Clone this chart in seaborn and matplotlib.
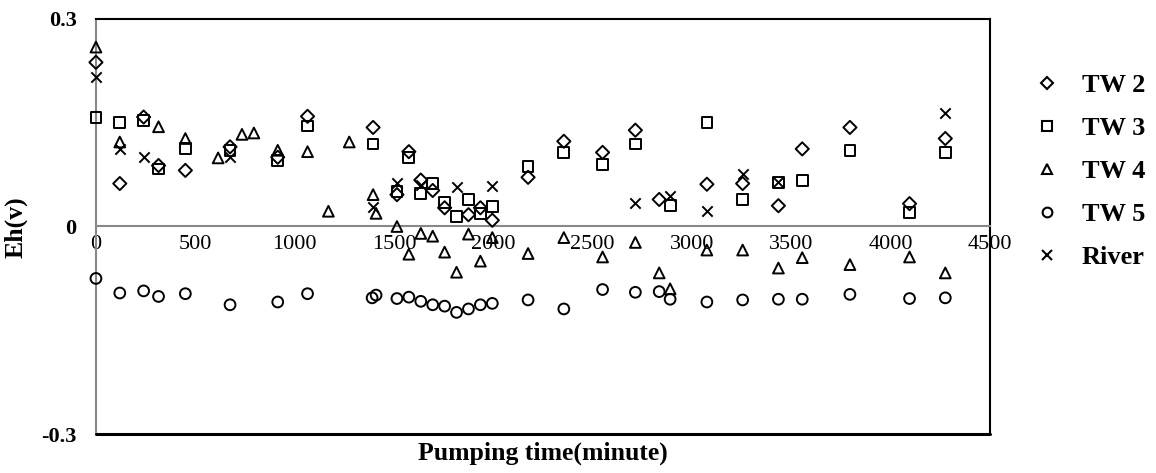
import matplotlib
matplotlib.use("Agg")
import pandas as pd
import seaborn as sns
import matplotlib.pyplot as plt
from matplotlib.lines import Line2D

# pumping time (minute) and Eh (v) for each well
tw2_t = [0, 120, 240, 315, 450, 675, 915, 1065, 1395, 1515, 1575, 1635, 1695, 1755,
         1875, 1935, 1995, 2175, 2355, 2550, 2715, 2835, 3075, 3255, 3435, 3555,
         3795, 4095, 4275]
tw2_eh = [0.237, 0.062, 0.158, 0.088, 0.081, 0.115, 0.100, 0.159, 0.143, 0.046, 0.108,
          0.067, 0.052, 0.027, 0.017, 0.027, 0.009, 0.071, 0.123, 0.107, 0.139, 0.039,
          0.061, 0.062, 0.030, 0.112, 0.143, 0.033, 0.127]

tw3_t = [0, 120, 240, 315, 450, 675, 915, 1065, 1395, 1515, 1575, 1635, 1695, 1755,
         1815, 1875, 1935, 1995, 2175, 2355, 2550, 2715, 2890, 3075, 3255, 3435, 3555,
         3795, 4095, 4275]
tw3_eh = [0.157, 0.150, 0.153, 0.083, 0.113, 0.110, 0.095, 0.145, 0.119, 0.050, 0.100,
          0.048, 0.062, 0.035, 0.014, 0.039, 0.019, 0.029, 0.087, 0.107, 0.089, 0.119,
          0.030, 0.150, 0.039, 0.064, 0.066, 0.110, 0.020, 0.107]

tw4_t = [0, 120, 315, 450, 615, 735, 795, 915, 1065, 1170, 1275, 1395, 1410, 1515,
         1575, 1635, 1695, 1755, 1815, 1875, 1935, 1995, 2175, 2355, 2550, 2715, 2835,
         2890, 3075, 3255, 3435, 3555, 3795, 4095, 4275]
tw4_eh = [0.259, 0.122, 0.144, 0.127, 0.099, 0.133, 0.135, 0.110, 0.108, 0.022, 0.122,
          0.046, 0.019, 0.000, -0.040, -0.010, -0.014, -0.037, -0.066, -0.011, -0.050,
          -0.016, -0.039, -0.016, -0.044, -0.023, -0.067, -0.090, -0.034, -0.034,
          -0.060, -0.045, -0.055, -0.044, -0.067]

tw5_t = [0, 120, 240, 315, 450, 675, 915, 1065, 1390, 1410, 1515, 1575, 1635, 1695,
         1755, 1815, 1875, 1935, 1995, 2175, 2355, 2550, 2715, 2835, 2890, 3075, 3255,
         3435, 3555, 3795, 4095, 4275]
tw5_eh = [-0.075, -0.096, -0.093, -0.101, -0.097, -0.113, -0.109, -0.097, -0.103, -0.099,
          -0.104, -0.102, -0.108, -0.113, -0.115, -0.124, -0.119, -0.113, -0.111, -0.106,
          -0.119, -0.091, -0.095, -0.094, -0.105, -0.109, -0.106, -0.105, -0.105, -0.098,
          -0.104, -0.103]

river_t = [0, 120, 240, 675, 1395, 1515, 1635, 1815, 1995, 2715, 2890, 3075, 3255, 3435, 4275]
river_eh = [0.216, 0.112, 0.101, 0.100, 0.028, 0.063, 0.060, 0.057, 0.058, 0.034, 0.044,
            0.022, 0.076, 0.064, 0.164]

series = [
    ("TW 2", tw2_t, tw2_eh, "D", 45),
    ("TW 3", tw3_t, tw3_eh, "s", 60),
    ("TW 4", tw4_t, tw4_eh, "^", 60),
    ("TW 5", tw5_t, tw5_eh, "o", 60),
    ("River", river_t, river_eh, "x", 55),
]

sns.set_theme(style="white")
plt.rcParams["font.family"] = ["Liberation Serif", "DejaVu Serif"]
plt.rcParams["text.color"] = "black"
plt.rcParams["xtick.color"] = "black"
plt.rcParams["ytick.color"] = "black"

fig = plt.figure(figsize=(11.56, 4.73), dpi=100)
ax = fig.add_axes([0.083, 0.0818, 0.7734, 0.8787])

handles = []
for name, t, eh, mk, size in series:
    df = pd.DataFrame({"time": t, "eh": eh})
    if mk == "x":
        sns.scatterplot(data=df, x="time", y="eh", marker=mk, s=size, color="black",
                        linewidth=1.4, ax=ax, zorder=3, clip_on=False)
    else:
        sns.scatterplot(data=df, x="time", y="eh", marker=mk, s=size, color="black",
                        facecolor="none", edgecolor="black", linewidth=1.4, ax=ax,
                        zorder=3, clip_on=False)
    handles.append(Line2D([], [], linestyle="", marker=mk, markersize=7 if mk != "D" else 6,
                          markerfacecolor="none", markeredgecolor="black",
                          markeredgewidth=1.5, color="black", label=name))

# spines first: moving the bottom spine resets the ticks
for s in ["top", "right"]:
    ax.spines[s].set_color("black")
    ax.spines[s].set_linewidth(1.5)
ax.spines["left"].set_color("#888888")
ax.spines["left"].set_linewidth(1.5)
ax.spines["bottom"].set_position(("data", 0))
ax.spines["bottom"].set_color("#888888")
ax.spines["bottom"].set_linewidth(1.5)
ax.axhline(-0.3, color="black", linewidth=2.2, clip_on=False, zorder=4)

ax.set_xlim(0, 4500)
ax.set_ylim(-0.3, 0.3)
ax.set_xticks(range(0, 4501, 500))
ax.set_yticks([-0.3, 0, 0.3])
ax.set_yticklabels(["-0.3", "0", "0.3"], fontweight="bold", fontsize=16)
ax.set_xticklabels([str(v) for v in range(0, 4501, 500)], fontsize=16)

ax.tick_params(axis="x", direction="out", length=5, width=1.2, color="#888888",
               labelcolor="black", pad=1)
ax.tick_params(axis="y", direction="out", length=5, width=1.2, color="#888888",
               labelcolor="black", pad=9)

ax.set_xlabel("")
ax.set_ylabel("")
fig.text(0.4697, 0.042, "Pumping time(minute)", ha="center", va="center",
         fontsize=18.5, fontweight="bold")
fig.text(0.014, 0.52, "Eh(v)", ha="center", va="center", rotation=90,
         fontsize=18.5, fontweight="bold")

fig.legend(handles=handles, loc="upper left", bbox_to_anchor=(0.874, 0.895),
           frameon=False, prop={"weight": "bold", "size": 19}, labelspacing=0.74,
           handletextpad=0.8, handlelength=1.0)

fig.savefig("out.png", dpi=100)
